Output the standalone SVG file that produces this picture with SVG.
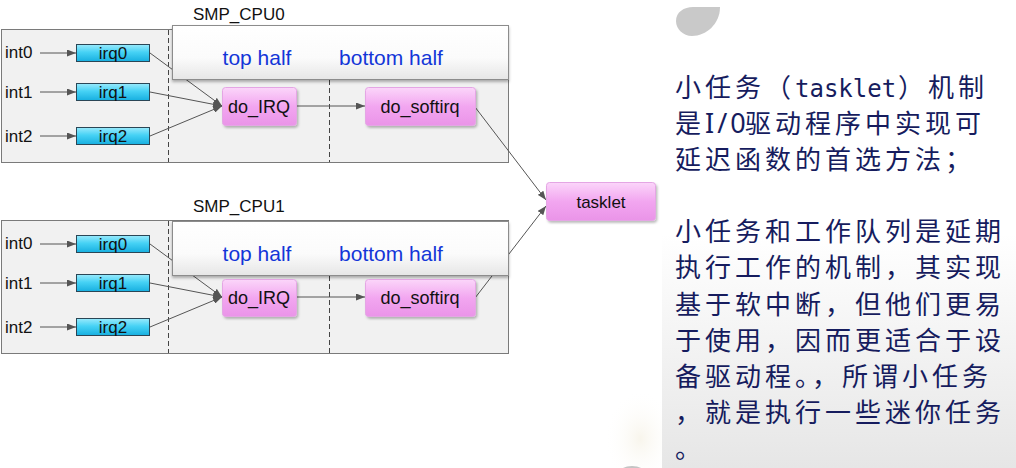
<svg xmlns="http://www.w3.org/2000/svg" width="1016" height="468" viewBox="0 0 1016 468">
<style>
.lbl{font-family:"Liberation Sans",Arial,sans-serif;fill:#111}
.cpu{font-size:17px}
.int{font-size:17px}
.irqt{font-size:17px;text-anchor:middle}
.node{font-size:18px;text-anchor:middle}
.hdr{font-family:"Liberation Sans",Arial,sans-serif;font-size:21px;fill:#1336d8;text-anchor:middle}
.outer{fill:#f1f1f1;stroke:#7a7a7a;stroke-width:1}
.dash{stroke:#444;stroke-width:1;stroke-dasharray:5,3;fill:none}
.head{fill:url(#gHead);stroke:#8c8c8c;stroke-width:1;filter:url(#shHead)}
.irq{fill:url(#gIrq);stroke:#2a4656;stroke-width:1}
.pink{fill:url(#gPink);stroke:#e4a6e4;stroke-width:1;filter:url(#shNode)}
.conn{stroke:#555;stroke-width:1;fill:none;marker-end:url(#arr)}
.cn{font-family:"Noto Sans CJK SC","Noto Sans",sans-serif;font-size:26px;fill:#161c5e;letter-spacing:4px}
</style>
<defs>
<linearGradient id="gIrq" x1="0" y1="0" x2="0" y2="1">
<stop offset="0" stop-color="#9aeafc"/>
<stop offset="0.45" stop-color="#46d2f5"/>
<stop offset="1" stop-color="#17afe0"/>
</linearGradient>
<linearGradient id="gPink" x1="0" y1="0" x2="0" y2="1">
<stop offset="0" stop-color="#fbd6fa"/>
<stop offset="0.5" stop-color="#f2a6f0"/>
<stop offset="1" stop-color="#ea94e8"/>
</linearGradient>
<linearGradient id="gHead" x1="0" y1="0" x2="0" y2="1">
<stop offset="0" stop-color="#ffffff"/>
<stop offset="0.6" stop-color="#fbfbfb"/>
<stop offset="1" stop-color="#e6e6e6"/>
</linearGradient>
<linearGradient id="gRight" x1="0" y1="0" x2="0" y2="1">
<stop offset="0" stop-color="#ffffff"/>
<stop offset="0.5" stop-color="#ffffff"/>
<stop offset="1" stop-color="#e6e6e6"/>
</linearGradient>
<radialGradient id="gCream" cx="0.7" cy="0.7" r="0.5">
<stop offset="0" stop-color="#f8f5ec"/>
<stop offset="1" stop-color="#ffffff" stop-opacity="0"/>
</radialGradient>
<filter id="shHead" x="-5%" y="-10%" width="110%" height="130%">
<feDropShadow dx="0" dy="2" stdDeviation="1.5" flood-color="#000" flood-opacity="0.3"/>
</filter>
<filter id="shNode" x="-10%" y="-10%" width="125%" height="140%">
<feDropShadow dx="1.5" dy="2" stdDeviation="1" flood-color="#000" flood-opacity="0.25"/>
</filter>
<marker id="arr" markerUnits="userSpaceOnUse" markerWidth="9" markerHeight="7" refX="9" refY="3.5" orient="auto">
<path d="M0,0 L9,3.5 L0,7 z" fill="#555"/>
</marker>
</defs>

<rect width="1016" height="468" fill="#ffffff"/>

<!-- right text panel -->
<g id="text-panel">
<rect x="590" y="370" width="72" height="98" fill="url(#gCream)"/>
<rect x="662" y="0" width="354" height="468" fill="url(#gRight)"/>
<path d="M720,7 C720,24 706,36 692,36 C683,36 676,29 676,21 C676,12 684,7 693,7 Z" fill="#c9c9c9"/>
<ellipse cx="632" cy="473" rx="13" ry="7" fill="#c4c4c4"/>
<text class="cn" y="97"><tspan x="675">小任务（</tspan><tspan x="795" font-family="DejaVu Sans Mono,monospace" font-size="24" letter-spacing="0">tasklet</tspan><tspan x="898">）机制</tspan></text>
<text class="cn" y="133"><tspan x="675">是</tspan><tspan x="705" font-family="Noto Sans,sans-serif" font-size="27" letter-spacing="3">I/0</tspan><tspan x="745">驱动程序中实现可</tspan></text>
<text class="cn" x="675" y="169">延迟函数的首选方法；</text>
<text class="cn" x="675" y="241">小任务和工作队列是延期</text>
<text class="cn" x="675" y="277">执行工作的机制，其实现</text>
<text class="cn" x="675" y="314">基于软中断，但他们更易</text>
<text class="cn" x="675" y="350">于使用，因而更适合于设</text>
<text class="cn" x="675" y="386">备驱动程。，所谓小任务</text>
<text class="cn" x="675" y="422">，就是执行一些迷你任务</text>
<text class="cn" x="675" y="458">。</text>
</g>

<!-- CPU panels (background) -->
<g id="cpu0-panel">
<rect class="outer" x="1.5" y="29.5" width="507" height="133"/>
<line class="dash" x1="168.5" y1="30" x2="168.5" y2="162"/>
<line class="dash" x1="329.5" y1="80" x2="329.5" y2="162"/>
<text class="lbl cpu" x="193" y="20">SMP_CPU0</text>
</g>
<g id="cpu1-panel">
<rect class="outer" x="1.5" y="220.5" width="507" height="133"/>
<line class="dash" x1="168.5" y1="221" x2="168.5" y2="353"/>
<line class="dash" x1="329.5" y1="276" x2="329.5" y2="353"/>
<text class="lbl cpu" x="193" y="212">SMP_CPU1</text>
</g>

<!-- connectors -->
<g id="connectors">
<line class="conn" x1="40" y1="53" x2="76" y2="53"/>
<line class="conn" x1="40" y1="92" x2="76" y2="92"/>
<line class="conn" x1="40" y1="136" x2="76" y2="136"/>
<line class="conn" x1="150" y1="53" x2="222" y2="106"/>
<line class="conn" x1="150" y1="92" x2="222" y2="106"/>
<line class="conn" x1="150" y1="136" x2="222" y2="106"/>
<line class="conn" x1="297" y1="106" x2="365" y2="106"/>
<line class="conn" x1="475" y1="107" x2="546" y2="200"/>
<line class="conn" x1="40" y1="244" x2="76" y2="244"/>
<line class="conn" x1="40" y1="283" x2="76" y2="283"/>
<line class="conn" x1="40" y1="327" x2="76" y2="327"/>
<line class="conn" x1="150" y1="244" x2="222" y2="297"/>
<line class="conn" x1="150" y1="283" x2="222" y2="297"/>
<line class="conn" x1="150" y1="327" x2="222" y2="297"/>
<line class="conn" x1="297" y1="297" x2="365" y2="297"/>
<line class="conn" x1="475" y1="298" x2="546" y2="206"/>
</g>

<!-- headers (drawn over connectors) -->
<g id="cpu0-header">
<rect class="head" x="172.5" y="25.5" width="336" height="54"/>
<text class="hdr" x="257" y="65">top half</text>
<text class="hdr" x="391" y="65">bottom half</text>
</g>
<g id="cpu1-header">
<rect class="head" x="172.5" y="221.5" width="336" height="54"/>
<text class="hdr" x="257" y="261">top half</text>
<text class="hdr" x="391" y="261">bottom half</text>
</g>

<!-- CPU0 nodes -->
<g id="cpu0-int0"><text class="lbl int" x="5" y="58">int0</text></g>
<g id="cpu0-int1"><text class="lbl int" x="5" y="98">int1</text></g>
<g id="cpu0-int2"><text class="lbl int" x="5" y="142">int2</text></g>
<g id="cpu0-irq0"><rect class="irq" x="76.5" y="44.5" width="73" height="17"/><text class="lbl irqt" x="113" y="59">irq0</text></g>
<g id="cpu0-irq1"><rect class="irq" x="76.5" y="83.5" width="73" height="17"/><text class="lbl irqt" x="113" y="98">irq1</text></g>
<g id="cpu0-irq2"><rect class="irq" x="76.5" y="127.5" width="73" height="17"/><text class="lbl irqt" x="113" y="142">irq2</text></g>
<g id="cpu0-do_IRQ"><rect class="pink" x="222.5" y="87.5" width="74" height="38" rx="3"/><text class="lbl node" x="259" y="113">do_IRQ</text></g>
<g id="cpu0-do_softirq"><rect class="pink" x="365.5" y="87.5" width="110" height="38" rx="3"/><text class="lbl node" x="420" y="113">do_softirq</text></g>

<!-- CPU1 nodes -->
<g id="cpu1-int0"><text class="lbl int" x="5" y="249">int0</text></g>
<g id="cpu1-int1"><text class="lbl int" x="5" y="289">int1</text></g>
<g id="cpu1-int2"><text class="lbl int" x="5" y="333">int2</text></g>
<g id="cpu1-irq0"><rect class="irq" x="76.5" y="235.5" width="73" height="17"/><text class="lbl irqt" x="113" y="250">irq0</text></g>
<g id="cpu1-irq1"><rect class="irq" x="76.5" y="274.5" width="73" height="17"/><text class="lbl irqt" x="113" y="289">irq1</text></g>
<g id="cpu1-irq2"><rect class="irq" x="76.5" y="318.5" width="73" height="17"/><text class="lbl irqt" x="113" y="333">irq2</text></g>
<g id="cpu1-do_IRQ"><rect class="pink" x="222.5" y="279.5" width="74" height="37" rx="3"/><text class="lbl node" x="259" y="304">do_IRQ</text></g>
<g id="cpu1-do_softirq"><rect class="pink" x="365.5" y="279.5" width="110" height="37" rx="3"/><text class="lbl node" x="420" y="304">do_softirq</text></g>

<!-- shared -->
<g id="tasklet"><rect class="pink" x="546.5" y="182.5" width="109" height="38" rx="3"/><text class="lbl node" x="601" y="208" style="font-size:17px">tasklet</text></g>
</svg>
